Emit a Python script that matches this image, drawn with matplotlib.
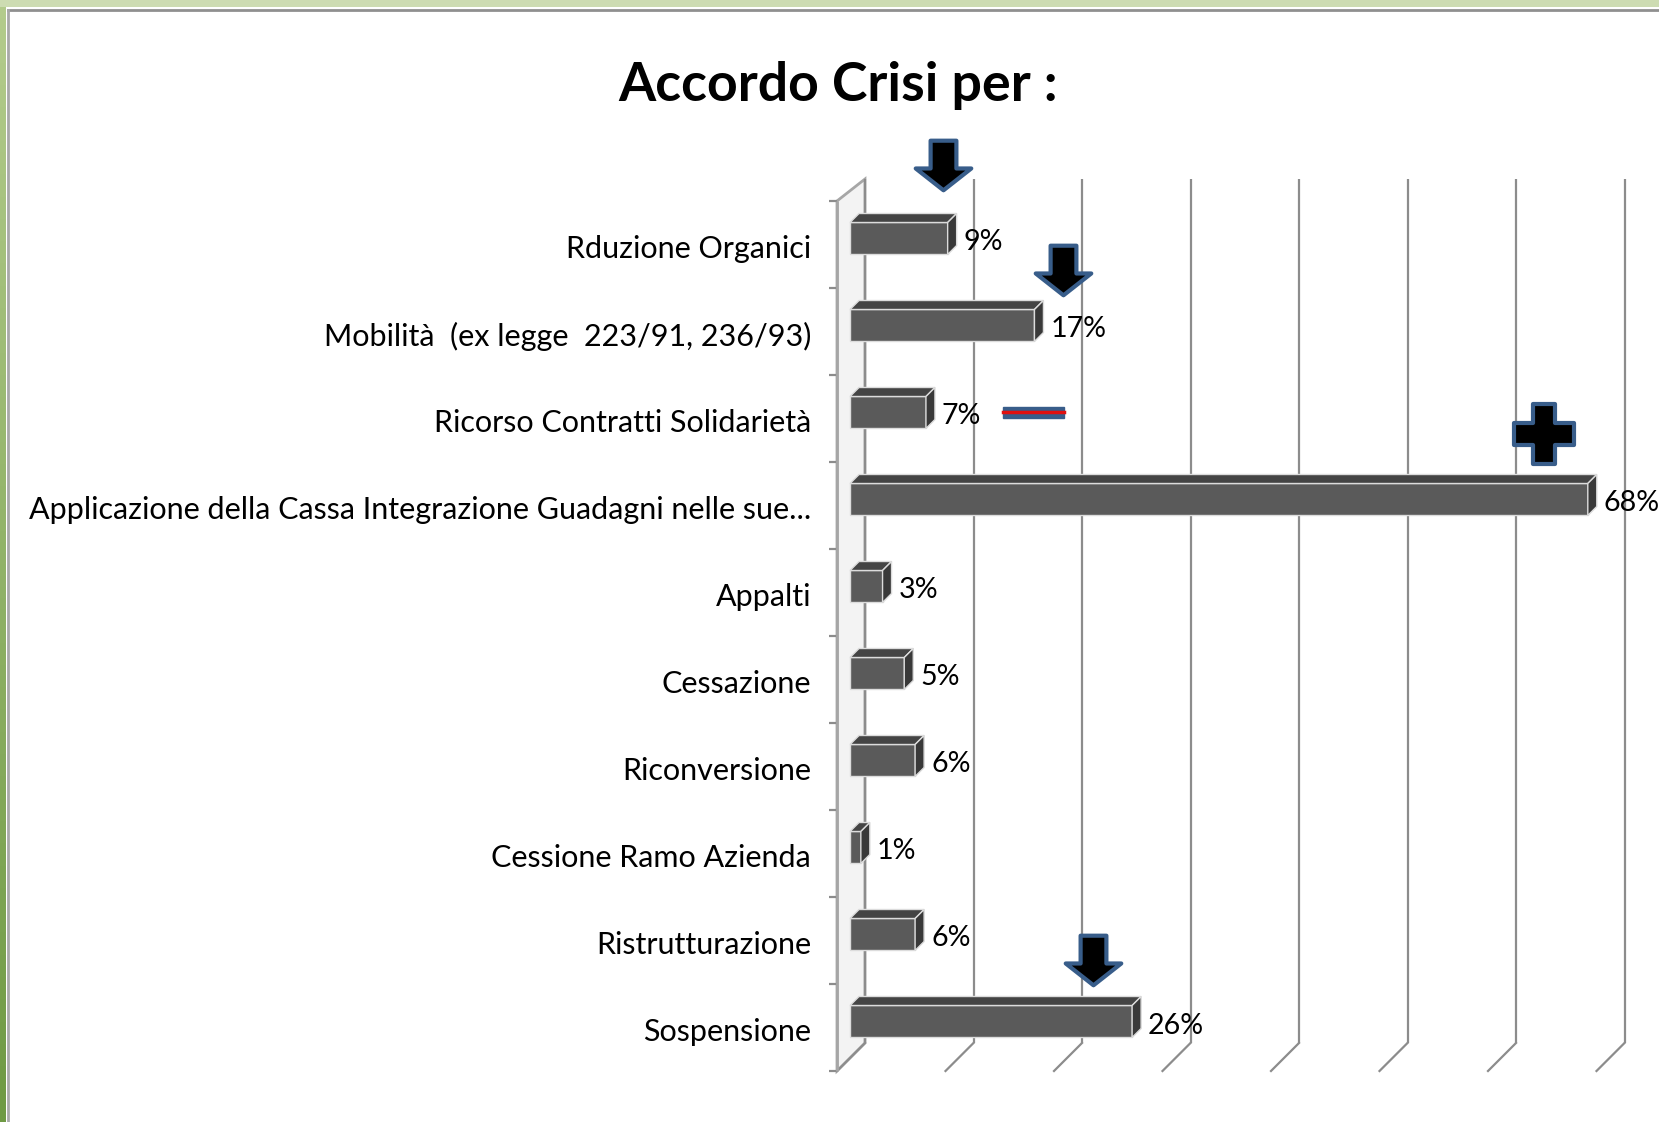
import numpy as np
import matplotlib
matplotlib.use('Agg')
import matplotlib.pyplot as plt
import matplotlib.transforms as mtransforms
from matplotlib.patches import Polygon, Rectangle
from matplotlib.path import Path

# data
categories = ['Rduzione Organici',
              'Mobilità  (ex legge  223/91, 236/93)',
              'Ricorso Contratti Solidarietà',
              'Applicazione della Cassa Integrazione Guadagni nelle sue...',
              'Appalti',
              'Cessazione',
              'Riconversione',
              'Cessione Ramo Azienda',
              'Ristrutturazione',
              'Sospensione']
values = [9, 17, 7, 68, 3, 5, 6, 1, 6, 26]
value_labels = [f'{v}%' for v in values]
grid_ticks = [0, 10, 20, 30, 40, 50, 60, 70, 80]
title = 'Accordo Crisi per :'

# slide decorations (x in %, y in category rows)
arrow_x = [9.8, 20.8, 23.6]
arrow_y = [-0.91, 0.29, 8.22]
plus_x, plus_y = 65.2, 2.18
minus_x = [15.3, 20.9]
minus_y = 1.93

plt.rcParams['font.family'] = ['Lato', 'DejaVu Sans']

W, H = 1659, 1122
fig = plt.figure(figsize=(W / 100, H / 100), dpi=100)
fig.patch.set_facecolor('white')

# green slide frame
fig.add_artist(Rectangle((0, 1 - 7 / H), 1, 7 / H, transform=fig.transFigure,
                         color='#cddcb2', lw=0))
fig.add_artist(plt.Line2D([8 / W, 1], [1 - 10 / H] * 2, transform=fig.transFigure,
                          color='#8f8f8f', lw=2))
band = fig.add_axes([0, 0, 6 / W, 1 - 7 / H])
band.imshow(np.linspace(0, 1, 100).reshape(-1, 1), aspect='auto',
            cmap=matplotlib.colors.LinearSegmentedColormap.from_list('g', ['#b3cb8c', '#6f9a44']))
band.axis('off')
fig.add_artist(plt.Line2D([8 / W] * 2, [0, 1 - 10 / H], transform=fig.transFigure,
                          color='#a8a8a8', lw=2))

# chart area: front zero at x=837px, rows between y=201 and y=1071 px
x0, ytop, ybot = 837, 201, 1071
ppp = 10.85  # pixels per percent
ax = fig.add_axes([x0 / W, (H - ybot) / H, (W - x0) / W, (ybot - ytop) / H])
ax.set_xlim(0, (W - x0) / ppp)
n = len(categories)
ax.set_ylim(n - 0.5, -0.5)
ax.axis('off')
sy = (ybot - ytop) / n

def dx(px):
    return px / ppp

def dy(px):
    return -px / sy

back = mtransforms.offset_copy(ax.transData, fig=fig, x=28, y=0, units='dots')
bar_tr = mtransforms.offset_copy(ax.transData, fig=fig, x=13, y=6, units='dots')

# left wall
wall = Polygon([(0, -0.5), (0, n - 0.5), (dx(28), n - 0.5 + dy(28)), (dx(28), -0.5 + dy(22))],
               closed=True, fc='#f3f3f3', ec='#a6a6a6', lw=2, clip_on=False, zorder=1)
ax.add_patch(wall)

# back gridlines and floor
ax.vlines(grid_ticks, -0.5 + dy(22), n - 0.5 + dy(28), transform=back, colors='#8c8c8c',
          lw=1.6, clip_on=False, zorder=1)
for t in grid_ticks:
    ax.plot([t, t + dx(28)], [n - 0.5, n - 0.5 + dy(28)], color='#8c8c8c', lw=1.6,
            clip_on=False, zorder=1)
ax.hlines(np.arange(n + 1) - 0.5, dx(-8), 0, colors='#8c8c8c', lw=1.6, clip_on=False)
ax.vlines(0, -0.5, n - 0.5, colors='#a6a6a6', lw=2, clip_on=False, zorder=2)

# bars with 3D faces
idx = np.arange(n)
bh = 32 / sy
ax.barh(idx, values, height=bh, color='#5a5a5a', edgecolor='#dcdcdc', lw=1,
        transform=bar_tr, clip_on=False, zorder=3)
ddx, ddy = dx(9), dy(9)
for i, v in enumerate(values):
    yt = i - bh / 2
    top = Polygon([(0, yt), (v, yt), (v + ddx, yt + ddy), (ddx, yt + ddy)], closed=True,
                  fc='#444444', ec='#dcdcdc', lw=1, transform=bar_tr, clip_on=False, zorder=3)
    side = Polygon([(v, yt), (v + ddx, yt + ddy), (v + ddx, yt + bh + ddy), (v, yt + bh)],
                   closed=True, fc='#393939', ec='#dcdcdc', lw=1, transform=bar_tr,
                   clip_on=False, zorder=3)
    ax.add_patch(top)
    ax.add_patch(side)

# texts, sized to match the slide
fig.canvas.draw()
r = fig.canvas.get_renderer()

def fit(txt, target):
    w = txt.get_window_extent(renderer=r).width
    txt.set_fontsize(txt.get_fontsize() * target / w)

tt = fig.text(838 / W, 1 - 85 / H, title, ha='center', va='center', fontsize=30,
              fontweight='bold')
fit(tt, 439)

labels = []
for i, c in enumerate(categories):
    labels.append(ax.text(dx(-26), i + dy(-5), c, ha='right', va='center', fontsize=20,
                          clip_on=False))
fit(labels[3], 785)
for t in labels:
    t.set_fontsize(labels[3].get_fontsize())

vls = []
for i, (v, lab) in enumerate(zip(values, value_labels)):
    vls.append(ax.text(v + dx(29), i + dy(2), lab, ha='left', va='center', fontsize=20,
                       clip_on=False))
fit(vls[-1], 56)
for t in vls:
    t.set_fontsize(vls[-1].get_fontsize())

# arrows, plus and minus shapes
arrow = Path([(-13, 25), (13, 25), (13, -3), (28, -3), (0, -25), (-28, -3), (-13, -3), (-13, 25)],
             closed=True)
ax.plot(arrow_x, arrow_y, ls='none', marker=arrow, ms=40, mfc='black', mec='#385d8a',
        mew=3, clip_on=False, zorder=5)
plus = Path([(-11, 30), (11, 30), (11, 11), (30, 11), (30, -11), (11, -11), (11, -30),
             (-11, -30), (-11, -11), (-30, -11), (-30, 11), (-11, 11), (-11, 30)], closed=True)
ax.plot([plus_x], [plus_y], ls='none', marker=plus, ms=43, mfc='black', mec='#385d8a',
        mew=3, clip_on=False, zorder=5)
ax.add_patch(Rectangle((minus_x[0], minus_y - 5.5 / sy), minus_x[1] - minus_x[0], 11 / sy,
                       fc='#385d8a', ec='#385d8a', clip_on=False, zorder=5))
ax.plot(minus_x, [minus_y] * 2, color='#e01010', lw=2.5, clip_on=False, zorder=6)

fig.savefig('out.png', dpi=100)
